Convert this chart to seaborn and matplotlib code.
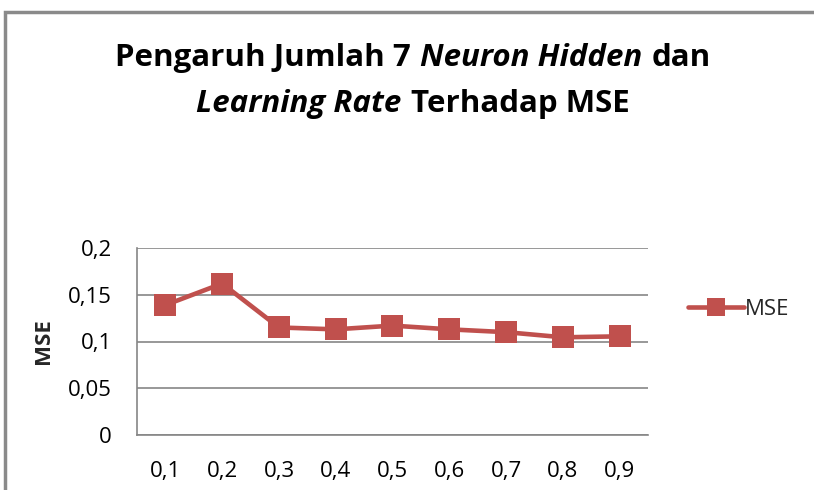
import matplotlib
matplotlib.use("Agg")
import matplotlib.pyplot as plt
from matplotlib.offsetbox import TextArea, HPacker, AnchoredOffsetbox
from matplotlib.patches import Rectangle
import seaborn as sns
import pandas as pd

# data
learning_rate = ["0,1", "0,2", "0,3", "0,4", "0,5", "0,6", "0,7", "0,8", "0,9"]
mse = [0.139, 0.162, 0.115, 0.113, 0.117, 0.113, 0.110, 0.1045, 0.1055]
y_ticks = [0, 0.05, 0.1, 0.15, 0.2]
y_tick_labels = ["0", "0,05", "0,1", "0,15", "0,2"]

df = pd.DataFrame({"lr": learning_rate, "mse": mse})

sns.set_style("white")
plt.rcParams["font.family"] = ["Open Sans", "DejaVu Sans"]

red = "#C0504D"
grid_col = "#868686"

fig = plt.figure(figsize=(8.14, 4.90), dpi=100)
ax = fig.add_axes([137 / 814, 55 / 490, 511 / 814, 187 / 490])

sns.lineplot(data=df, x="lr", y="mse", ax=ax, color=red, linewidth=3.3,
             marker="s", markersize=16, markeredgewidth=0, label="MSE",
             sort=False)

ax.set_xlim(-0.5, len(learning_rate) - 0.5)
ax.set_ylim(0, 0.2)
ax.set_yticks(y_ticks)
ax.set_yticklabels(y_tick_labels)
ax.yaxis.grid(True, color=grid_col, linewidth=1.2)
ax.set_axisbelow(True)
for s in ["top", "right"]:
    ax.spines[s].set_visible(False)
for s in ["left", "bottom"]:
    ax.spines[s].set_color(grid_col)
    ax.spines[s].set_linewidth(1.2)
ax.tick_params(axis="both", length=0, labelsize=16, colors="#000000")
ax.tick_params(axis="y", pad=18)
ax.tick_params(axis="x", pad=19)
ax.set_xlabel("")
ax.set_ylabel("MSE", fontsize=16, fontweight="bold", labelpad=10)

leg = ax.legend(loc="center left", bbox_to_anchor=(1.04, 0.67), frameon=False,
                fontsize=16, handlelength=2.5, handletextpad=0.05, markerscale=0.85)

# title with mixed bold / bold italic pieces
def piece(txt, italic=False):
    return TextArea(txt, textprops=dict(fontsize=22.5, fontweight="bold",
                                        fontstyle="italic" if italic else "normal",
                                        color="black"))

line1 = HPacker(children=[piece("Pengaruh Jumlah 7"), piece("Neuron Hidden", True),
                          piece("dan")], sep=7, align="baseline")
line2 = HPacker(children=[piece("Learning Rate", True), piece("Terhadap MSE")],
                sep=7, align="baseline")
for box, yy in [(line1, 1 - 58 / 490), (line2, 1 - 104 / 490)]:
    ab = AnchoredOffsetbox(loc="center", child=box, frameon=False,
                           bbox_to_anchor=(413 / 814, yy),
                           bbox_transform=fig.transFigure, pad=0, borderpad=0)
    fig.add_artist(ab)

# outer chart frame (cropped on the right and bottom)
fig.add_artist(Rectangle((5 / 814, -0.1), 1.2, 1 - 12 / 490 + 0.1,
                         transform=fig.transFigure, fill=False,
                         edgecolor="#8a8a8a", linewidth=2.5))

fig.savefig("out.png", dpi=100)
